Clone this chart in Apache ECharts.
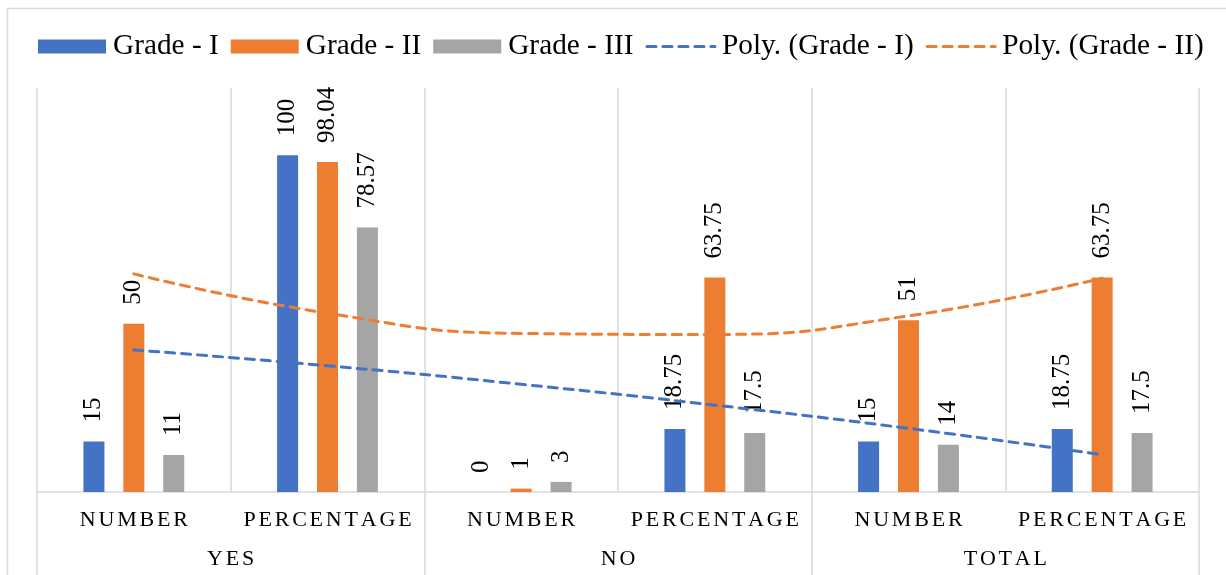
<!DOCTYPE html>
<html>
<head>
<meta charset="utf-8">
<title>Grade distribution</title>
<script src="https://cdn.jsdelivr.net/npm/echarts@6/dist/echarts.min.js"></script>
<style>
  html, body { margin: 0; padding: 0; background: #fff; }
  #chart { width: 1226px; height: 575px; }
</style>
</head>
<body>
<div id="chart"></div>
<script>
// Inner categories (one per bar cluster) and their outer groups
const subCategories = ['NUMBER', 'PERCENTAGE', 'NUMBER', 'PERCENTAGE', 'NUMBER', 'PERCENTAGE'];
const groupCategories = ['YES', 'NO', 'TOTAL'];

// Bar values per grade
const gradeI = [15, 100, 0, 18.75, 15, 18.75];
const gradeII = [50, 98.04, 1, 63.75, 51, 63.75];
const gradeIII = [11, 78.57, 3, 17.5, 14, 17.5];

// Order-2 polynomial trend values at each category
const polyGradeI = [42.2, 37.5, 32.0, 25.8, 18.9, 11.1];
const polyGradeII = [64.8, 53.1, 47.1, 46.8, 52.3, 63.5];

const FONT = '"Liberation Serif", "Times New Roman", serif';
const GRID_GRAY = '#d9d9d9';
const COLORS = { g1: '#4472C4', g2: '#ED7D31', g3: '#A5A5A5' };
const TREND_DASH = [9, 7];

const chart = echarts.init(document.getElementById('chart'), null, { renderer: 'canvas' });

// Spaced capitals for the category labels: every letter but the last gets a little right padding
function spaced(text) {
  const chars = text.split('');
  return chars.map((c, i) => (i < chars.length - 1 ? '{s|' + c + '}' : '{e|' + c + '}')).join('');
}
const spacedRich = {
  s: { fontSize: 22, fontFamily: FONT, color: '#000', padding: [0, 2.8, 0, 0] },
  e: { fontSize: 22, fontFamily: FONT, color: '#000' }
};

const barLabel = {
  show: true,
  position: 'top',
  rotate: 90,
  align: 'left',
  verticalAlign: 'middle',
  distance: 19,
  fontSize: 25,
  fontFamily: FONT,
  color: '#000'
};

function barSeries(name, data, color) {
  return {
    name: name,
    type: 'bar',
    xAxisIndex: 0,
    data: data,
    barWidth: 21,
    barGap: '90%',
    itemStyle: { color: color },
    label: barLabel,
    z: 2
  };
}

function trendSeries(name, data, color) {
  return {
    name: name,
    type: 'line',
    xAxisIndex: 0,
    data: data,
    smooth: true,
    symbol: 'none',
    silent: true,
    lineStyle: { color: color, width: 3, type: TREND_DASH, cap: 'round' },
    itemStyle: { color: color },
    z: 3
  };
}

function trendLegendItem(name) {
  return {
    name: name,
    itemStyle: { color: 'rgba(0,0,0,0)', borderColor: 'rgba(0,0,0,0)', borderWidth: 0 },
    lineStyle: { width: 3, type: TREND_DASH, cap: 'round' }
  };
}

chart.setOption({
  animation: false,
  color: [COLORS.g1, COLORS.g2, COLORS.g3, COLORS.g1, COLORS.g2],
  graphic: [{
    type: 'rect',
    shape: { x: 7.5, y: 8.5, width: 1400, height: 800 },
    style: { fill: 'none', stroke: GRID_GRAY, lineWidth: 1.5 },
    silent: true,
    z: -10
  }],
  legend: {
    top: 32,
    left: 38,
    padding: 0,
    itemWidth: 68,
    itemHeight: 14,
    itemGap: 12,
    textStyle: { fontSize: 29.3, fontFamily: FONT, color: '#000', padding: [0, 0, 0, 2] },
    data: [
      { name: 'Grade - I', icon: 'rect' },
      { name: 'Grade - II', icon: 'rect' },
      { name: 'Grade - III', icon: 'rect' },
      trendLegendItem('Poly. (Grade - I)'),
      trendLegendItem('Poly. (Grade - II)')
    ]
  },
  grid: { left: 37, right: 27, top: 88, bottom: 83, containLabel: false },
  xAxis: [
    {
      type: 'category',
      data: subCategories,
      position: 'bottom',
      offset: 0,
      axisLine: { show: true, lineStyle: { color: GRID_GRAY, width: 1.5 } },
      axisTick: { show: false },
      splitLine: { show: true, interval: 0, lineStyle: { color: GRID_GRAY, width: 1.5 } },
      axisLabel: { interval: 0, margin: 17, fontSize: 22, fontFamily: FONT, color: '#000', formatter: spaced, rich: spacedRich }
    },
    {
      type: 'category',
      data: groupCategories,
      position: 'bottom',
      offset: 0,
      axisLine: { show: false },
      axisTick: { show: true, interval: 0, length: 90, lineStyle: { color: GRID_GRAY, width: 1.5 } },
      splitLine: { show: false },
      axisLabel: { interval: 0, margin: 56, fontSize: 22, fontFamily: FONT, color: '#000', formatter: spaced, rich: spacedRich }
    }
  ],
  yAxis: {
    type: 'value',
    min: 0,
    max: 120,
    show: false,
    splitLine: { show: false }
  },
  series: [
    barSeries('Grade - I', gradeI, COLORS.g1),
    barSeries('Grade - II', gradeII, COLORS.g2),
    barSeries('Grade - III', gradeIII, COLORS.g3),
    trendSeries('Poly. (Grade - I)', polyGradeI, COLORS.g1),
    trendSeries('Poly. (Grade - II)', polyGradeII, COLORS.g2)
  ]
});
</script>
</body>
</html>
